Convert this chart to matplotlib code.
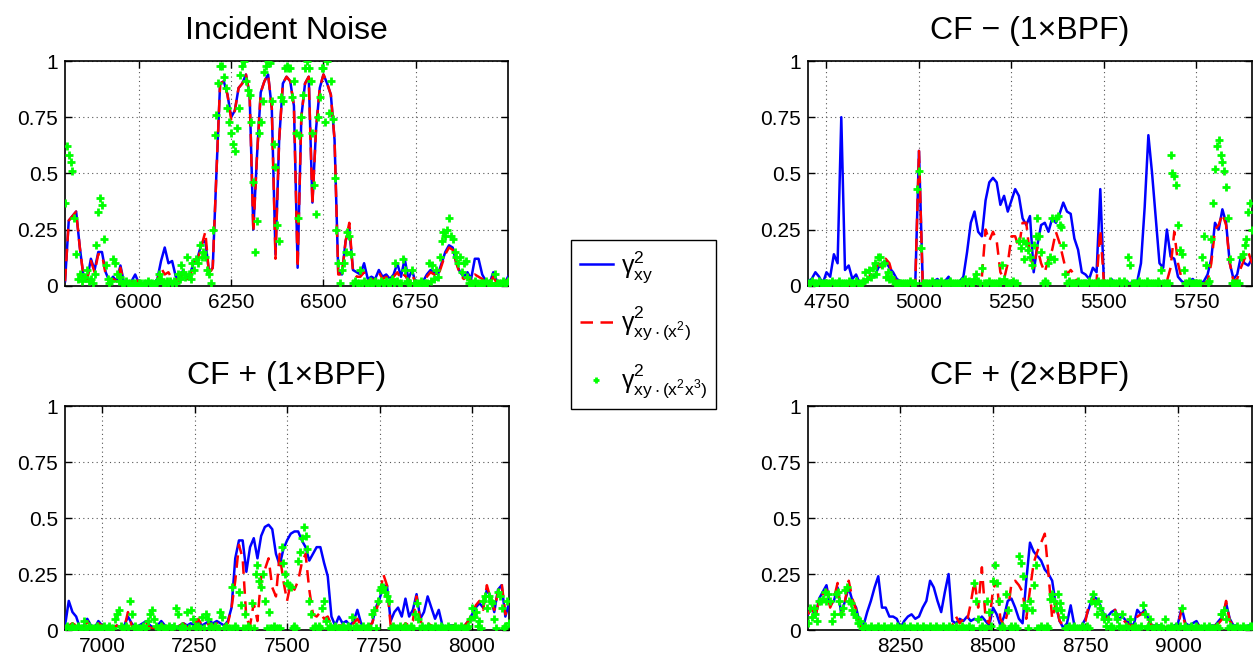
import numpy as np
import matplotlib.pyplot as plt

plt.rcParams['font.family'] = ['Liberation Sans', 'DejaVu Sans']
plt.rcParams['mathtext.fontset'] = 'custom'
plt.rcParams['mathtext.rm'] = 'Liberation Sans'
plt.rcParams['mathtext.it'] = 'Liberation Sans:italic'
plt.rcParams['mathtext.default'] = 'regular'

# band limits [Hz]; lines are sampled every 10 Hz, the partial coherence points every 5 Hz
noise_band = (5800, 7000)
cfm1_band = (4700, 5900)
cfp1_band = (6900, 8100)
cfp2_band = (8000, 9200)

titles = ['Incident Noise', 'CF \u2212 (1\u00d7BPF)', 'CF + (1\u00d7BPF)', 'CF + (2\u00d7BPF)']
xticks_noise = [6000, 6250, 6500, 6750]
xticks_cfm1 = [4750, 5000, 5250, 5500, 5750]
xticks_cfp1 = [7000, 7250, 7500, 7750, 8000]
xticks_cfp2 = [8250, 8500, 8750, 9000]
yticks = [0, 0.25, 0.5, 0.75, 1]
ytick_labels = ['0', '0.25', '0.5', '0.75', '1']

# ---- Incident noise ----
noise_xy = [
    0.02, 0.29, 0.31, 0.33, 0.17, 0.04, 0.03, 0.12, 0.07, 0.15,
    0.15, 0.06, 0.02, 0.04, 0.02, 0.09, 0.01, 0.01, 0.02, 0.05,
    0.01, 0.01, 0.02, 0.01, 0.01, 0.03, 0.11, 0.17, 0.10, 0.11,
    0.04, 0.03, 0.07, 0.03, 0.06, 0.11, 0.13, 0.19, 0.20, 0.06,
    0.08, 0.50, 0.90, 0.91, 0.85, 0.75, 0.78, 0.88, 0.90, 0.94,
    0.85, 0.25, 0.58, 0.86, 0.91, 0.94, 0.79, 0.14, 0.65, 0.90,
    0.93, 0.91, 0.80, 0.08, 0.75, 0.90, 0.93, 0.37, 0.70, 0.88,
    0.94, 0.90, 0.85, 0.65, 0.06, 0.05, 0.20, 0.25, 0.07, 0.06,
    0.05, 0.10, 0.03, 0.04, 0.03, 0.07, 0.04, 0.05, 0.03, 0.05,
    0.10, 0.04, 0.12, 0.03, 0.07, 0.01, 0.01, 0.02, 0.05, 0.07,
    0.06, 0.05, 0.10, 0.15, 0.18, 0.17, 0.10, 0.06, 0.04, 0.06,
    0.03, 0.12, 0.12, 0.05, 0.02, 0.01, 0.06, 0.02, 0.01, 0.01,
    0.04]
noise_xy_x2 = [
    0.02, 0.29, 0.31, 0.33, 0.17, 0.04, 0.03, 0.11, 0.06, 0.14,
    0.14, 0.05, 0.02, 0.03, 0.02, 0.08, 0.01, 0.01, 0.01, 0.04,
    0.01, 0.01, 0.01, 0.01, 0.01, 0.02, 0.08, 0.05, 0.06, 0.03,
    0.03, 0.02, 0.06, 0.03, 0.05, 0.10, 0.12, 0.18, 0.24, 0.05,
    0.08, 0.50, 0.90, 0.91, 0.85, 0.74, 0.78, 0.88, 0.90, 0.94,
    0.85, 0.24, 0.58, 0.86, 0.91, 0.94, 0.79, 0.12, 0.65, 0.90,
    0.93, 0.91, 0.80, 0.08, 0.75, 0.90, 0.93, 0.36, 0.70, 0.88,
    0.94, 0.90, 0.85, 0.65, 0.05, 0.05, 0.20, 0.28, 0.06, 0.04,
    0.04, 0.06, 0.02, 0.03, 0.02, 0.06, 0.03, 0.04, 0.02, 0.04,
    0.06, 0.03, 0.05, 0.02, 0.05, 0.01, 0.01, 0.02, 0.04, 0.06,
    0.05, 0.04, 0.09, 0.14, 0.17, 0.16, 0.10, 0.05, 0.03, 0.04,
    0.02, 0.05, 0.04, 0.03, 0.01, 0.01, 0.04, 0.01, 0.01, 0.01,
    0.03]
noise_xy_x2x3 = [
    0.37, 0.62, 0.58, 0.55, 0.51, 0.30, 0.14, 0.03, 0.05, 0.02,
    0.04, 0.04, 0.07, 0.02, 0.03, 0.01, 0.05, 0.18, 0.33, 0.39,
    0.36, 0.21, 0.09, 0.03, 0.01, 0.02, 0.12, 0.10, 0.05, 0.02,
    0.04, 0.01, 0.01, 0.02, 0.01, 0.01, 0.00, 0.01, 0.01, 0.00,
    0.01, 0.01, 0.00, 0.01, 0.01, 0.02, 0.01, 0.01, 0.00, 0.01,
    0.02, 0.05, 0.03, 0.01, 0.01, 0.02, 0.01, 0.02, 0.01, 0.02,
    0.01, 0.05, 0.03, 0.09, 0.06, 0.04, 0.13, 0.05, 0.03, 0.10,
    0.07, 0.12, 0.10, 0.18, 0.13, 0.15, 0.13, 0.07, 0.05, 0.01,
    0.25, 0.67, 0.76, 0.90, 0.98, 0.98, 0.93, 0.88, 0.79, 0.73,
    0.68, 0.63, 0.60, 0.70, 0.79, 0.94, 0.98, 1.00, 0.91, 0.87,
    0.85, 0.73, 0.46, 0.15, 0.29, 0.68, 0.73, 0.82, 0.95, 0.98,
    1.00, 0.99, 0.82, 0.63, 0.53, 0.27, 0.20, 0.84, 0.82, 0.97,
    0.98, 0.97, 0.97, 0.84, 0.91, 0.68, 0.30, 0.67, 0.75, 0.85,
    0.97, 1.00, 0.97, 0.91, 0.68, 0.45, 0.32, 0.75, 0.84, 0.97,
    0.97, 0.73, 1.00, 0.77, 0.91, 0.74, 0.48, 0.25, 0.10, 0.01,
    0.07, 0.10, 0.15, 0.24, 0.22, 0.14, 0.01, 0.02, 0.01, 0.01,
    0.07, 0.01, 0.02, 0.01, 0.01, 0.02, 0.01, 0.01, 0.02, 0.01,
    0.01, 0.02, 0.01, 0.01, 0.02, 0.01, 0.01, 0.03, 0.01, 0.10,
    0.02, 0.01, 0.01, 0.12, 0.07, 0.02, 0.01, 0.01, 0.07, 0.01,
    0.01, 0.00, 0.01, 0.02, 0.01, 0.01, 0.01, 0.10, 0.02, 0.09,
    0.03, 0.07, 0.04, 0.13, 0.20, 0.24, 0.22, 0.25, 0.30, 0.22,
    0.21, 0.15, 0.13, 0.10, 0.13, 0.06, 0.10, 0.11, 0.04, 0.01,
    0.01, 0.01, 0.02, 0.01, 0.00, 0.01, 0.01, 0.01, 0.02, 0.01,
    0.01, 0.01, 0.00, 0.05, 0.01, 0.01, 0.01, 0.02, 0.01, 0.01,
    0.02]

# ---- CF - (1xBPF) ----
cfm1_xy = [
    0.02, 0.03, 0.06, 0.04, 0.01, 0.06, 0.04, 0.14, 0.10, 0.75,
    0.07, 0.09, 0.03, 0.05, 0.01, 0.01, 0.02, 0.05, 0.04, 0.08,
    0.10, 0.11, 0.08, 0.06, 0.03, 0.02, 0.01, 0.01, 0.01, 0.01,
    0.60, 0.02, 0.01, 0.01, 0.02, 0.03, 0.01, 0.02, 0.04, 0.01,
    0.01, 0.02, 0.04, 0.15, 0.28, 0.33, 0.24, 0.22, 0.38, 0.46,
    0.48, 0.46, 0.36, 0.40, 0.33, 0.38, 0.43, 0.40, 0.30, 0.27,
    0.31, 0.06, 0.18, 0.27, 0.28, 0.24, 0.30, 0.28, 0.32, 0.37,
    0.33, 0.32, 0.21, 0.16, 0.06, 0.05, 0.03, 0.08, 0.06, 0.43,
    0.01, 0.01, 0.03, 0.01, 0.01, 0.01, 0.02, 0.01, 0.02, 0.02,
    0.10, 0.35, 0.67, 0.50, 0.30, 0.10, 0.08, 0.25, 0.13, 0.12,
    0.04, 0.02, 0.01, 0.02, 0.03, 0.01, 0.01, 0.02, 0.05, 0.12,
    0.28, 0.25, 0.34, 0.28, 0.10, 0.03, 0.05, 0.13, 0.10, 0.09,
    0.12]
cfm1_xy_x2 = [
    0.01, 0.01, 0.01, 0.01, 0.00, 0.01, 0.01, 0.01, 0.01, 0.01,
    0.01, 0.00, 0.01, 0.01, 0.00, 0.01, 0.02, 0.05, 0.07, 0.10,
    0.08, 0.12, 0.10, 0.04, 0.02, 0.01, 0.00, 0.01, 0.00, 0.01,
    0.60, 0.01, 0.00, 0.01, 0.01, 0.01, 0.00, 0.01, 0.01, 0.00,
    0.01, 0.01, 0.01, 0.01, 0.02, 0.01, 0.02, 0.04, 0.25, 0.20,
    0.24, 0.20, 0.06, 0.03, 0.10, 0.22, 0.22, 0.17, 0.28, 0.28,
    0.13, 0.08, 0.17, 0.10, 0.06, 0.12, 0.16, 0.24, 0.19, 0.12,
    0.05, 0.07, 0.05, 0.01, 0.01, 0.00, 0.01, 0.01, 0.02, 0.25,
    0.01, 0.00, 0.01, 0.00, 0.01, 0.01, 0.00, 0.01, 0.01, 0.01,
    0.01, 0.01, 0.01, 0.01, 0.01, 0.01, 0.01, 0.02, 0.08, 0.24,
    0.10, 0.03, 0.01, 0.01, 0.01, 0.00, 0.01, 0.01, 0.02, 0.10,
    0.25, 0.27, 0.32, 0.27, 0.10, 0.02, 0.03, 0.08, 0.12, 0.15,
    0.10]
cfm1_xy_x2x3 = [
    0.01, 0.01, 0.02, 0.01, 0.01, 0.01, 0.02, 0.01, 0.01, 0.01,
    0.01, 0.01, 0.01, 0.02, 0.01, 0.01, 0.01, 0.02, 0.01, 0.01,
    0.01, 0.01, 0.02, 0.01, 0.01, 0.01, 0.02, 0.01, 0.01, 0.01,
    0.02, 0.06, 0.03, 0.07, 0.04, 0.08, 0.10, 0.05, 0.13, 0.13,
    0.09, 0.10, 0.04, 0.06, 0.03, 0.04, 0.02, 0.01, 0.01, 0.01,
    0.01, 0.01, 0.01, 0.01, 0.01, 0.02, 0.01, 0.01, 0.01, 0.43,
    0.51, 0.17, 0.01, 0.01, 0.01, 0.01, 0.01, 0.02, 0.01, 0.01,
    0.01, 0.01, 0.02, 0.01, 0.01, 0.01, 0.01, 0.02, 0.01, 0.01,
    0.01, 0.01, 0.01, 0.02, 0.01, 0.03, 0.01, 0.02, 0.01, 0.01,
    0.03, 0.05, 0.02, 0.01, 0.08, 0.01, 0.01, 0.01, 0.02, 0.01,
    0.01, 0.01, 0.01, 0.02, 0.01, 0.09, 0.03, 0.01, 0.01, 0.01,
    0.01, 0.02, 0.01, 0.01, 0.20, 0.17, 0.20, 0.12, 0.19, 0.16,
    0.13, 0.09, 0.18, 0.22, 0.30, 0.22, 0.15, 0.01, 0.02, 0.01,
    0.10, 0.13, 0.30, 0.12, 0.30, 0.31, 0.27, 0.26, 0.18, 0.05,
    0.01, 0.02, 0.01, 0.01, 0.01, 0.01, 0.02, 0.01, 0.01, 0.01,
    0.01, 0.01, 0.02, 0.01, 0.01, 0.01, 0.01, 0.02, 0.01, 0.01,
    0.01, 0.01, 0.01, 0.02, 0.01, 0.01, 0.01, 0.01, 0.02, 0.01,
    0.01, 0.02, 0.01, 0.13, 0.09, 0.01, 0.01, 0.01, 0.01, 0.02,
    0.01, 0.01, 0.01, 0.02, 0.01, 0.01, 0.01, 0.01, 0.01, 0.02,
    0.01, 0.07, 0.01, 0.01, 0.01, 0.01, 0.58, 0.50, 0.49, 0.45,
    0.27, 0.16, 0.14, 0.07, 0.01, 0.01, 0.02, 0.01, 0.01, 0.01,
    0.01, 0.01, 0.01, 0.13, 0.22, 0.09, 0.01, 0.02, 0.21, 0.37,
    0.52, 0.62, 0.65, 0.58, 0.55, 0.51, 0.44, 0.30, 0.12, 0.01,
    0.01, 0.01, 0.01, 0.01, 0.13, 0.14, 0.18, 0.21, 0.33, 0.37,
    0.25]

# ---- CF + (1xBPF) ----
cfp1_xy = [
    0.02, 0.13, 0.08, 0.06, 0.01, 0.02, 0.05, 0.02, 0.01, 0.04,
    0.02, 0.01, 0.02, 0.01, 0.02, 0.01, 0.02, 0.06, 0.03, 0.01,
    0.02, 0.03, 0.04, 0.02, 0.01, 0.02, 0.04, 0.02, 0.01, 0.02,
    0.01, 0.02, 0.03, 0.02, 0.03, 0.02, 0.04, 0.02, 0.03, 0.04,
    0.03, 0.04, 0.03, 0.02, 0.04, 0.10, 0.32, 0.40, 0.40, 0.26,
    0.37, 0.41, 0.32, 0.42, 0.46, 0.47, 0.45, 0.34, 0.29, 0.36,
    0.40, 0.43, 0.44, 0.44, 0.40, 0.37, 0.31, 0.34, 0.37, 0.37,
    0.30, 0.24, 0.06, 0.02, 0.06, 0.03, 0.04, 0.02, 0.04, 0.09,
    0.03, 0.01, 0.02, 0.03, 0.10, 0.14, 0.19, 0.20, 0.04, 0.08,
    0.10, 0.06, 0.14, 0.06, 0.09, 0.16, 0.05, 0.08, 0.15, 0.10,
    0.05, 0.09, 0.02, 0.01, 0.02, 0.02, 0.01, 0.01, 0.02, 0.04,
    0.07, 0.10, 0.12, 0.10, 0.18, 0.15, 0.08, 0.18, 0.20, 0.06,
    0.12]
cfp1_xy_x2 = [
    0.01, 0.02, 0.03, 0.02, 0.01, 0.01, 0.04, 0.01, 0.01, 0.03,
    0.02, 0.01, 0.01, 0.01, 0.02, 0.01, 0.01, 0.08, 0.02, 0.01,
    0.01, 0.02, 0.03, 0.01, 0.01, 0.01, 0.03, 0.01, 0.01, 0.01,
    0.01, 0.02, 0.03, 0.01, 0.02, 0.02, 0.05, 0.02, 0.02, 0.03,
    0.02, 0.03, 0.02, 0.02, 0.03, 0.10, 0.22, 0.38, 0.32, 0.05,
    0.02, 0.12, 0.04, 0.24, 0.27, 0.32, 0.19, 0.15, 0.34, 0.22,
    0.13, 0.21, 0.18, 0.22, 0.30, 0.34, 0.18, 0.07, 0.06, 0.08,
    0.05, 0.06, 0.02, 0.01, 0.02, 0.02, 0.01, 0.02, 0.03, 0.05,
    0.02, 0.01, 0.02, 0.03, 0.08, 0.14, 0.25, 0.20, 0.02, 0.01,
    0.02, 0.01, 0.03, 0.02, 0.04, 0.15, 0.04, 0.02, 0.03, 0.02,
    0.01, 0.02, 0.01, 0.01, 0.01, 0.02, 0.01, 0.01, 0.02, 0.04,
    0.07, 0.11, 0.13, 0.09, 0.20, 0.14, 0.09, 0.17, 0.21, 0.07,
    0.13]
cfp1_xy_x2x3 = [
    0.01, 0.02, 0.01, 0.01, 0.02, 0.01, 0.01, 0.02, 0.01, 0.01,
    0.04, 0.01, 0.01, 0.02, 0.01, 0.01, 0.01, 0.02, 0.01, 0.01,
    0.01, 0.02, 0.01, 0.01, 0.02, 0.01, 0.01, 0.05, 0.07, 0.09,
    0.02, 0.01, 0.01, 0.02, 0.01, 0.13, 0.07, 0.01, 0.02, 0.01,
    0.01, 0.01, 0.02, 0.01, 0.01, 0.04, 0.07, 0.09, 0.05, 0.02,
    0.01, 0.01, 0.02, 0.01, 0.01, 0.01, 0.02, 0.01, 0.01, 0.02,
    0.10, 0.07, 0.01, 0.02, 0.01, 0.01, 0.08, 0.01, 0.09, 0.05,
    0.02, 0.01, 0.02, 0.01, 0.06, 0.01, 0.07, 0.05, 0.01, 0.02,
    0.01, 0.02, 0.01, 0.01, 0.08, 0.06, 0.01, 0.02, 0.01, 0.01,
    0.19, 0.01, 0.02, 0.01, 0.17, 0.11, 0.01, 0.07, 0.01, 0.02,
    0.01, 0.12, 0.01, 0.25, 0.29, 0.22, 0.19, 0.25, 0.13, 0.01,
    0.08, 0.01, 0.01, 0.02, 0.01, 0.01, 0.01, 0.37, 0.30, 0.25,
    0.21, 0.20, 0.19, 0.01, 0.02, 0.01, 0.31, 0.35, 0.41, 0.46,
    0.42, 0.36, 0.13, 0.07, 0.01, 0.02, 0.01, 0.02, 0.01, 0.10,
    0.13, 0.04, 0.01, 0.02, 0.01, 0.01, 0.02, 0.01, 0.01, 0.01,
    0.02, 0.01, 0.01, 0.02, 0.01, 0.06, 0.01, 0.02, 0.01, 0.01,
    0.01, 0.02, 0.01, 0.01, 0.02, 0.01, 0.07, 0.09, 0.01, 0.13,
    0.18, 0.19, 0.19, 0.17, 0.15, 0.13, 0.01, 0.02, 0.01, 0.01,
    0.01, 0.02, 0.01, 0.01, 0.02, 0.01, 0.01, 0.02, 0.01, 0.07,
    0.12, 0.05, 0.01, 0.02, 0.01, 0.01, 0.02, 0.01, 0.01, 0.01,
    0.02, 0.01, 0.01, 0.02, 0.01, 0.01, 0.01, 0.02, 0.01, 0.01,
    0.01, 0.02, 0.01, 0.01, 0.02, 0.01, 0.01, 0.01, 0.02, 0.05,
    0.10, 0.06, 0.08, 0.02, 0.04, 0.01, 0.13, 0.15, 0.10, 0.15,
    0.13, 0.12, 0.05, 0.01, 0.17, 0.15, 0.10, 0.01, 0.02, 0.13,
    0.03]

# ---- CF + (2xBPF) ----
cfp2_xy = [
    0.07, 0.10, 0.06, 0.14, 0.17, 0.20, 0.11, 0.13, 0.19, 0.07,
    0.13, 0.19, 0.13, 0.10, 0.03, 0.02, 0.08, 0.13, 0.19, 0.24,
    0.10, 0.10, 0.06, 0.06, 0.05, 0.01, 0.04, 0.06, 0.07, 0.05,
    0.06, 0.10, 0.13, 0.22, 0.19, 0.13, 0.08, 0.17, 0.25, 0.04,
    0.03, 0.05, 0.04, 0.06, 0.04, 0.05, 0.04, 0.06, 0.04, 0.02,
    0.10, 0.07, 0.02, 0.06, 0.13, 0.14, 0.10, 0.05, 0.03, 0.22,
    0.39, 0.35, 0.33, 0.31, 0.27, 0.25, 0.22, 0.11, 0.04, 0.01,
    0.03, 0.11, 0.02, 0.01, 0.02, 0.05, 0.10, 0.15, 0.14, 0.11,
    0.07, 0.06, 0.08, 0.09, 0.05, 0.06, 0.04, 0.03, 0.02, 0.09,
    0.07, 0.09, 0.05, 0.02, 0.02, 0.02, 0.01, 0.01, 0.01, 0.02,
    0.03, 0.10, 0.03, 0.02, 0.03, 0.04, 0.01, 0.01, 0.01, 0.02,
    0.02, 0.04, 0.06, 0.12, 0.05, 0.02, 0.02, 0.01, 0.01, 0.02,
    0.02]
cfp2_xy_x2 = [
    0.07, 0.10, 0.06, 0.13, 0.16, 0.18, 0.10, 0.14, 0.21, 0.06,
    0.13, 0.22, 0.14, 0.09, 0.02, 0.01, 0.01, 0.00, 0.01, 0.01,
    0.00, 0.01, 0.01, 0.00, 0.01, 0.01, 0.00, 0.01, 0.01, 0.00,
    0.01, 0.01, 0.00, 0.01, 0.01, 0.01, 0.00, 0.01, 0.01, 0.02,
    0.06, 0.03, 0.05, 0.04, 0.12, 0.22, 0.10, 0.28, 0.05, 0.03,
    0.18, 0.22, 0.05, 0.02, 0.08, 0.21, 0.22, 0.20, 0.17, 0.05,
    0.18, 0.30, 0.35, 0.39, 0.43, 0.25, 0.05, 0.12, 0.04, 0.02,
    0.01, 0.01, 0.01, 0.01, 0.02, 0.04, 0.12, 0.14, 0.12, 0.10,
    0.06, 0.05, 0.07, 0.09, 0.04, 0.05, 0.03, 0.02, 0.02, 0.06,
    0.07, 0.08, 0.04, 0.02, 0.01, 0.02, 0.01, 0.01, 0.01, 0.01,
    0.02, 0.09, 0.02, 0.01, 0.02, 0.03, 0.01, 0.01, 0.01, 0.01,
    0.02, 0.03, 0.05, 0.13, 0.04, 0.02, 0.01, 0.01, 0.01, 0.01,
    0.02]
cfp2_xy_x2x3 = [
    0.03, 0.10, 0.06, 0.10, 0.07, 0.04, 0.13, 0.13, 0.14, 0.17,
    0.13, 0.16, 0.13, 0.04, 0.07, 0.16, 0.17, 0.13, 0.07, 0.10,
    0.18, 0.19, 0.13, 0.12, 0.09, 0.07, 0.06, 0.03, 0.04, 0.01,
    0.01, 0.02, 0.01, 0.01, 0.02, 0.01, 0.01, 0.01, 0.02, 0.01,
    0.01, 0.02, 0.01, 0.01, 0.01, 0.02, 0.01, 0.01, 0.02, 0.01,
    0.01, 0.01, 0.02, 0.01, 0.01, 0.02, 0.01, 0.01, 0.01, 0.02,
    0.01, 0.01, 0.02, 0.01, 0.01, 0.01, 0.02, 0.01, 0.01, 0.02,
    0.01, 0.01, 0.01, 0.02, 0.01, 0.01, 0.02, 0.01, 0.01, 0.01,
    0.02, 0.01, 0.01, 0.02, 0.01, 0.01, 0.01, 0.02, 0.01, 0.01,
    0.21, 0.13, 0.05, 0.01, 0.02, 0.01, 0.01, 0.13, 0.08, 0.02,
    0.22, 0.29, 0.21, 0.13, 0.01, 0.02, 0.01, 0.16, 0.09, 0.01,
    0.02, 0.01, 0.02, 0.01, 0.33, 0.30, 0.24, 0.11, 0.10, 0.01,
    0.13, 0.09, 0.20, 0.29, 0.01, 0.01, 0.02, 0.01, 0.01, 0.02,
    0.01, 0.14, 0.16, 0.13, 0.10, 0.16, 0.12, 0.09, 0.06, 0.01,
    0.01, 0.02, 0.01, 0.01, 0.02, 0.01, 0.01, 0.01, 0.02, 0.01,
    0.01, 0.02, 0.01, 0.13, 0.16, 0.12, 0.07, 0.13, 0.10, 0.07,
    0.05, 0.02, 0.05, 0.01, 0.02, 0.01, 0.07, 0.05, 0.02, 0.01,
    0.07, 0.01, 0.02, 0.01, 0.05, 0.01, 0.01, 0.02, 0.01, 0.01,
    0.02, 0.11, 0.07, 0.01, 0.02, 0.05, 0.01, 0.01, 0.02, 0.01,
    0.01, 0.02, 0.01, 0.05, 0.01, 0.01, 0.02, 0.01, 0.01, 0.02,
    0.01, 0.02, 0.10, 0.01, 0.02, 0.01, 0.01, 0.02, 0.01, 0.01,
    0.02, 0.01, 0.01, 0.01, 0.02, 0.01, 0.01, 0.02, 0.01, 0.01,
    0.01, 0.02, 0.01, 0.07, 0.07, 0.09, 0.05, 0.01, 0.02, 0.01,
    0.01, 0.01, 0.02, 0.01, 0.01, 0.02, 0.01, 0.01, 0.01, 0.02,
    0.02]

panels = [
    (noise_band, xticks_noise, noise_xy, noise_xy_x2, noise_xy_x2x3),
    (cfm1_band, xticks_cfm1, cfm1_xy, cfm1_xy_x2, cfm1_xy_x2x3),
    (cfp1_band, xticks_cfp1, cfp1_xy, cfp1_xy_x2, cfp1_xy_x2x3),
    (cfp2_band, xticks_cfp2, cfp2_xy, cfp2_xy_x2, cfp2_xy_x2x3),
]

# axes boxes in figure fractions (left, bottom, width, height)
boxes = [
    [0.0518, 0.5697, 0.3527, 0.3384],
    [0.6433, 0.5697, 0.3535, 0.3384],
    [0.0518, 0.0512, 0.3535, 0.3373],
    [0.6433, 0.0512, 0.3535, 0.3373],
]

fig = plt.figure(figsize=(12.56, 6.64), dpi=100)

for (band, xt, c_xy, c_x2, c_x2x3), box, title in zip(panels, boxes, titles):
    ax = fig.add_axes(box)
    f_line = np.arange(band[0], band[1] + 1, 10)
    f_pts = np.arange(band[0], band[1] + 1, 5)
    h1, = ax.plot(f_line, c_xy, color='#0000ff', lw=1.8, zorder=3)
    h2, = ax.plot(f_line, c_x2, color='#ff0000', lw=1.8, ls=(0, (5, 3)), zorder=4)
    h3, = ax.plot(f_pts, c_x2x3, ls='none', marker='+', ms=6, mew=2.0,
                  color='#00ff00', zorder=5)
    ax.set_xlim(band)
    ax.set_ylim(0, 1)
    ax.set_xticks(xt)
    ax.set_xticklabels([str(v) for v in xt])
    ax.set_yticks(yticks)
    ax.set_yticklabels(ytick_labels)
    ax.grid(True, color='#555555', ls=(0, (1, 3)), lw=0.8)
    ax.tick_params(direction='in', length=5, width=1, top=True, right=True,
                   labelsize=15, pad=5)
    for s in ax.spines.values():
        s.set_linewidth(1.2)
    ax.set_title(title, fontsize=23, pad=16)

fig.legend([h1, h2, h3],
           [r'$\gamma^2_{xy}$', r'$\gamma^2_{xy\cdot(x^2)}$', r'$\gamma^2_{xy\cdot(x^2x^3)}$'],
           loc='center', bbox_to_anchor=(0.5127, 0.5113), fontsize=18,
           frameon=True, fancybox=False, edgecolor='black', framealpha=1,
           handlelength=1.3, labelspacing=0.8, markerscale=0.7,
           borderpad=0.35, handletextpad=0.35, borderaxespad=0)

fig.savefig('out.png', dpi=100)
